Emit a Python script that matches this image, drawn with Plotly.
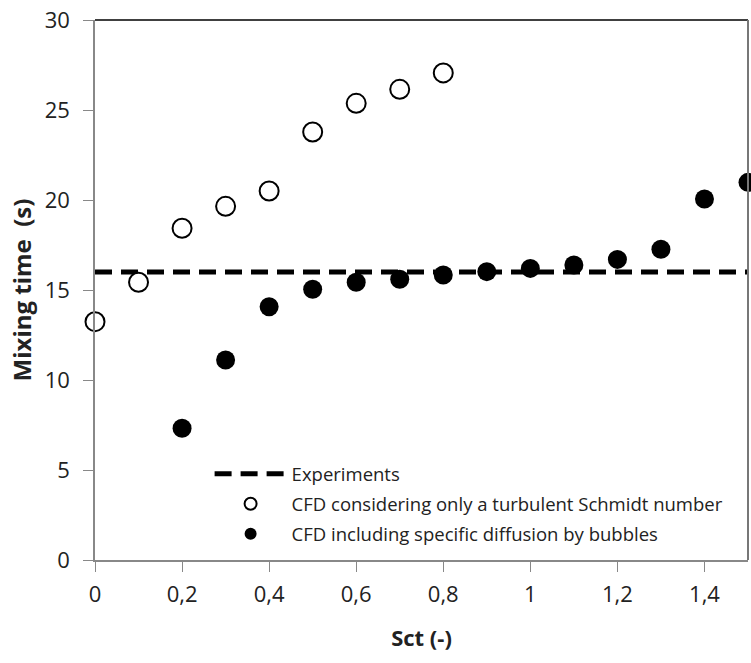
import plotly.graph_objects as go

sct_open = [0, 0.1, 0.2, 0.3, 0.4, 0.5, 0.6, 0.7, 0.8]
time_open = [13.24, 15.43, 18.43, 19.65, 20.5, 23.78, 25.37, 26.15, 27.06]

sct_filled = [0.2, 0.3, 0.4, 0.5, 0.6, 0.7, 0.8, 0.9, 1.0, 1.1, 1.2, 1.3, 1.4, 1.5]
time_filled = [7.32, 11.11, 14.07, 15.04, 15.43, 15.6, 15.83, 16.02, 16.2, 16.39, 16.7, 17.26, 20.06, 20.98]

exp_x = [0, 1.5]
exp_y = [16, 16]

x_tickvals = [0, 0.2, 0.4, 0.6, 0.8, 1.0, 1.2, 1.4]
x_ticktext = ["0", "0,2", "0,4", "0,6", "0,8", "1", "1,2", "1,4"]
y_tickvals = [0, 5, 10, 15, 20, 25, 30]

FONT = "Open Sans"

fig = go.Figure()
fig.add_trace(go.Scatter(
    x=exp_x, y=exp_y, mode="lines", name="Experiments",
    line=dict(color="black", width=5, dash="17px,9px"),
    legendgroup="a"))
fig.add_trace(go.Scatter(
    x=sct_open, y=time_open, mode="markers",
    name="CFD considering only a turbulent Schmidt number",
    marker=dict(symbol="circle", size=19, color="white",
                line=dict(color="black", width=2)),
    legendgroup="b", cliponaxis=False))
fig.add_trace(go.Scatter(
    x=sct_filled, y=time_filled, mode="markers",
    name="CFD including specific diffusion by bubbles",
    marker=dict(symbol="circle", size=19, color="black",
                line=dict(color="black", width=0)),
    legendgroup="c", cliponaxis=False))

fig.update_layout(
    width=751, height=663,
    margin=dict(l=95, r=3, t=20, b=103, autoexpand=False),
    paper_bgcolor="white", plot_bgcolor="white",
    font=dict(family=FONT, color="#222"),
    showlegend=True,
    legend=dict(x=0.1755, y=0.194, xanchor="left", yanchor="top",
                font=dict(size=18.5, family=FONT, color="#222"),
                bgcolor="rgba(0,0,0,0)", itemwidth=72,
                itemsizing="constant", tracegroupgap=3),
    xaxis=dict(range=[0, 1.5], tickvals=x_tickvals, ticktext=x_ticktext,
               showgrid=False, zeroline=False,
               showline=True, linecolor="#888", linewidth=1.5,
               ticks="outside", ticklen=10, tickcolor="#888",
               tickfont=dict(size=22, family=FONT, color="#222"),
               ticklabelstandoff=4, ticklabeloverflow="allow",
               title=dict(text="<b>Sct (-)</b>", font=dict(size=22, family=FONT, color="#222"),
                          standoff=23)),
    yaxis=dict(range=[0, 30], tickvals=y_tickvals,
               showgrid=False, zeroline=False,
               showline=True, linecolor="#888", linewidth=1.5,
               ticks="outside", ticklen=10, tickcolor="#888",
               tickfont=dict(size=22, family=FONT, color="#222"),
               ticklabelstandoff=9, ticklabeloverflow="allow",
               title=dict(text="<b>Mixing time  (s)</b>", font=dict(size=24, family=FONT, color="#222"),
                          standoff=6)),
    shapes=[
        dict(type="line", xref="paper", yref="paper", x0=0, x1=1, y0=1, y1=1,
             line=dict(color="black", width=1.5)),
        dict(type="line", xref="paper", yref="paper", x0=1, x1=1, y0=0, y1=1,
             line=dict(color="#777", width=2)),
    ],
)

fig.write_html("out.html",
               config={"displayModeBar": False},
               post_script="document.body.style.margin='0';document.body.style.overflow='hidden';")
